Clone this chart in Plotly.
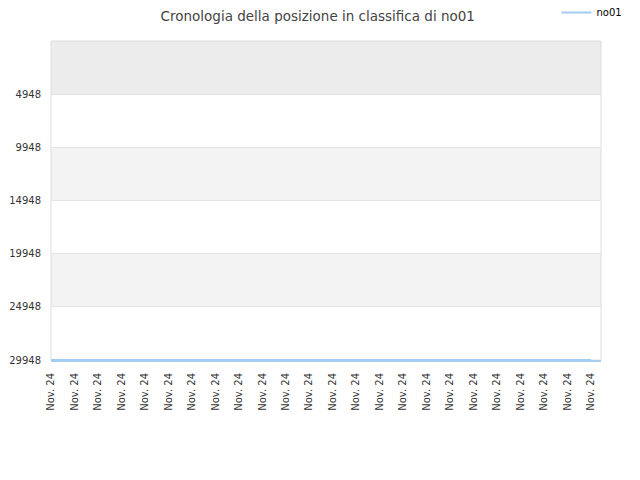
import plotly.graph_objects as go

# data
date_labels = ["Nov. 24"] * 24
ranks = [29948] * 24
y_ticks = [4948, 9948, 14948, 19948, 24948, 29948]
y_labels = [str(v) for v in y_ticks]
band_edges = [-52, 4948, 9948, 14948, 19948, 24948, 29948]
band_colors = ["#ececec", "#ffffff", "#f3f3f3", "#ffffff", "#f3f3f3", "#ffffff"]

x_pos = list(range(len(date_labels)))
line_col = "#a3ccf2"

fig = go.Figure()

# alternating background bands
for i, col in enumerate(band_colors):
    fig.add_shape(type="rect", xref="paper", yref="y",
                  x0=0, x1=1, y0=band_edges[i], y1=band_edges[i + 1],
                  fillcolor=col, line_width=0, layer="below")

# light grey frame round the plot area
fig.add_shape(type="rect", xref="paper", yref="paper", x0=0, x1=1, y0=0, y1=1,
              line=dict(color="#dddddd", width=1), layer="below")

fig.add_trace(go.Scatter(
    x=x_pos, y=ranks, mode="lines", name="no01",
    line=dict(color=line_col, width=2),
))

# page body adds an 8px offset, so margins are shifted to compensate
fig.update_layout(
    width=640, height=480,
    title=dict(text="Cronologia della posizione in classifica di no01",
               x=0.484, xanchor="center", y=0.992, yanchor="top",
               font=dict(size=13.5, color="#444")),
    font=dict(family="DejaVu Sans", size=10, color="#333"),
    margin=dict(l=43, r=47, t=33, b=128, autoexpand=False),
    paper_bgcolor="white", plot_bgcolor="white",
    showlegend=True,
    legend=dict(x=0.919, y=1.135, xanchor="left", yanchor="top",
                font=dict(size=10, color="#000"), bgcolor="rgba(0,0,0,0)",
                itemwidth=30),
    xaxis=dict(range=[0, 23.43], tickmode="array", tickvals=x_pos,
               ticktext=date_labels, tickangle=-90, showgrid=False,
               zeroline=False, showline=True, linecolor=line_col,
               linewidth=2, mirror=False, ticks="", automargin=False,
               ticklabelstandoff=7,
               tickfont=dict(size=10, color="#333")),
    yaxis=dict(range=[29948, -52], tickmode="array", tickvals=y_ticks,
               ticktext=y_labels,
               showgrid=True, gridcolor="#e4e4e4", zeroline=False,
               showline=False, ticks="", automargin=False,
               ticklabelstandoff=9,
               tickfont=dict(size=10, color="#333")),
)

fig.write_html("out.html")
